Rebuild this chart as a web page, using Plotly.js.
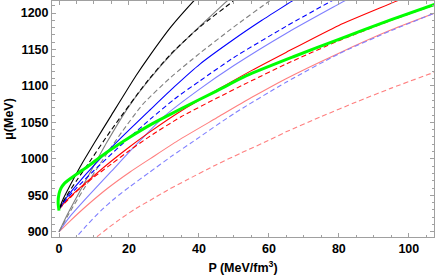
<!DOCTYPE html>
<html>
<head>
<meta charset="utf-8">
<script src="https://cdn.plot.ly/plotly-3.0.1.min.js"></script>
<style>html,body{margin:0;padding:0;background:#fff;}#chart{width:436px;height:278px;}</style>
</head>
<body>
<div id="chart"></div>
<script>
// Pressure (MeV/fm^3) and chemical potential (MeV)
const blackSolidP  = [0, 1, 3, 5, 7, 10, 15, 22, 26, 32, 38.4, 40];
const blackSolidMu = [931, 943, 962, 980, 997, 1021, 1060, 1114, 1142, 1181, 1216, 1224];

const blackDashP  = [0, 2, 5, 8.9, 15, 25, 32, 40.3, 49.7, 52];
const blackDashMu = [931, 948, 970, 997, 1040, 1105, 1144, 1181, 1216, 1225];

const graySolidP  = [0, 2, 5, 9, 13.6, 20, 26, 33, 40.3, 47.9, 50];
const graySolidMu = [900, 920, 947, 982, 1022, 1072, 1110, 1148, 1182, 1216, 1225];

const grayDashP  = [0, 3, 7, 12, 18, 24, 32, 40.3, 50, 60, 62];
const grayDashMu = [900, 926, 958, 995, 1037, 1075, 1112, 1145, 1181, 1216, 1223];

const blueSolidP  = [0, 2, 5, 10, 18, 26, 33, 40.3, 50, 58, 66.5, 70];
const blueSolidMu = [931, 946, 964, 991, 1030, 1067, 1099, 1130, 1164, 1190, 1216, 1227];

const blueDashP  = [0, 2, 5, 10, 18, 26, 33, 40.3, 50, 65, 77.7, 80];
const blueDashMu = [931, 944, 960, 984, 1020, 1054, 1082, 1107, 1139, 1182, 1216, 1222];

const lightBlueSolidP  = [0, 3, 8, 15, 22, 30, 40.3, 50, 64.9, 81.4, 84];
const lightBlueSolidMu = [900, 920, 947, 983, 1019, 1058, 1096, 1128, 1172, 1216, 1223];

const lightBlueDashP  = [4, 5, 8, 12, 16, 20.3, 26, 32, 38.4, 50, 64.9, 80, 95, 108];
const lightBlueDashMu = [888, 893, 909, 929, 946, 962, 982, 1003, 1024, 1062, 1105, 1144, 1176, 1201];

const redSolidP  = [0, 2, 5, 10, 15, 20.3, 26, 35, 45, 55, 64.9, 80, 96.3, 100];
const redSolidMu = [931, 942, 956, 977, 997, 1017, 1037, 1066, 1094, 1121, 1146, 1183, 1216, 1224];

const redDashP  = [0, 2, 5, 10, 15, 20.3, 26, 35, 45, 55, 64.9, 80, 95, 108];
const redDashMu = [931, 941, 955, 975, 993, 1012, 1031, 1058, 1083, 1107, 1130, 1162, 1190, 1212];

const lightRedSolidP  = [0, 3, 8, 14, 20.3, 26, 34, 45, 55, 64.9, 80, 95, 108];
const lightRedSolidMu = [900, 914, 936, 960, 982, 1000, 1025, 1056, 1084, 1110, 1145, 1177, 1201];

const lightRedDashP  = [9, 10.8, 14, 17.4, 22, 26, 31, 36.5, 45, 52, 59.8, 64.9, 75, 85, 95, 108];
const lightRedDashMu = [887, 893, 905, 917, 932, 943, 957, 971, 992, 1008, 1025, 1037, 1058, 1078, 1097, 1120];

const greenP  = [0, -0.25, 0, 0.6, 1.5, 3, 5, 7.5, 10, 14, 20, 26.6, 35, 45, 53.6, 67, 80, 95, 108];
const greenMu = [929, 940, 952, 960, 966, 972, 979, 987, 996, 1010, 1029, 1048, 1069, 1093, 1114, 1140, 1164, 1191, 1213];

const xTickVals = [0, 20, 40, 60, 80, 100];
const yTickVals = [900, 950, 1000, 1050, 1100, 1150, 1200];

function tr(x, y, color, dash, width) {
  return {x: x, y: y, type: 'scatter', mode: 'lines',
    line: {color: color, width: width || 1.1, dash: dash || 'solid', shape: 'spline', smoothing: 0.6},
    hoverinfo: 'skip', showlegend: false};
}
const DASH = '5px,3px';
const traces = [
  tr(lightRedDashP, lightRedDashMu, '#ff7f7f', DASH),
  tr(lightRedSolidP, lightRedSolidMu, '#ff7f7f'),
  tr(lightBlueDashP, lightBlueDashMu, '#7f7fff', DASH),
  tr(lightBlueSolidP, lightBlueSolidMu, '#7f7fff'),
  tr(grayDashP, grayDashMu, '#7f7f7f', DASH),
  tr(graySolidP, graySolidMu, '#7f7f7f'),
  tr(redDashP, redDashMu, '#ff0000', DASH),
  tr(redSolidP, redSolidMu, '#ff0000'),
  tr(blueDashP, blueDashMu, '#0000ff', DASH),
  tr(blueSolidP, blueSolidMu, '#0000ff'),
  tr(blackDashP, blackDashMu, '#000000', DASH),
  tr(blackSolidP, blackSolidMu, '#000000'),
  tr(greenP, greenMu, '#00ff00', '', 3)
];

const fontBase = {family: 'Liberation Sans, Arial, sans-serif', size: 12.5, color: '#000', weight: 'bold'};
const layout = {
  width: 436, height: 278,
  margin: {l: 52, r: 2, t: 1, b: 41},
  paper_bgcolor: '#fff', plot_bgcolor: '#fff',
  xaxis: {
    range: [-2, 107.2], tickvals: xTickVals, ticktext: xTickVals.map(String),
    ticks: 'inside', ticklen: 4, tickwidth: 1, tickcolor: '#a0a0a0',
    minor: {dtick: 5, tick0: 0, ticks: 'inside', ticklen: 2.5, tickcolor: '#a0a0a0'},
    showline: true, linecolor: '#a0a0a0', linewidth: 1, mirror: 'ticks',
    showgrid: false, zeroline: false, tickfont: fontBase,
    title: {text: 'P (MeV/fm<sup>3</sup>)', font: fontBase, standoff: 8}
  },
  yaxis: {
    range: [892.8, 1216.5], tickvals: yTickVals, ticktext: yTickVals.map(String),
    ticks: 'inside', ticklen: 4, tickwidth: 1, tickcolor: '#a0a0a0',
    minor: {dtick: 10, tick0: 900, ticks: 'inside', ticklen: 2.5, tickcolor: '#a0a0a0'},
    showline: true, linecolor: '#a0a0a0', linewidth: 1, mirror: 'ticks',
    showgrid: false, zeroline: false, tickfont: fontBase,
    title: {text: 'μ(MeV)', font: fontBase, standoff: 4}
  }
};
Plotly.newPlot('chart', traces, layout, {staticPlot: true, displayModeBar: false});
</script>
</body>
</html>
